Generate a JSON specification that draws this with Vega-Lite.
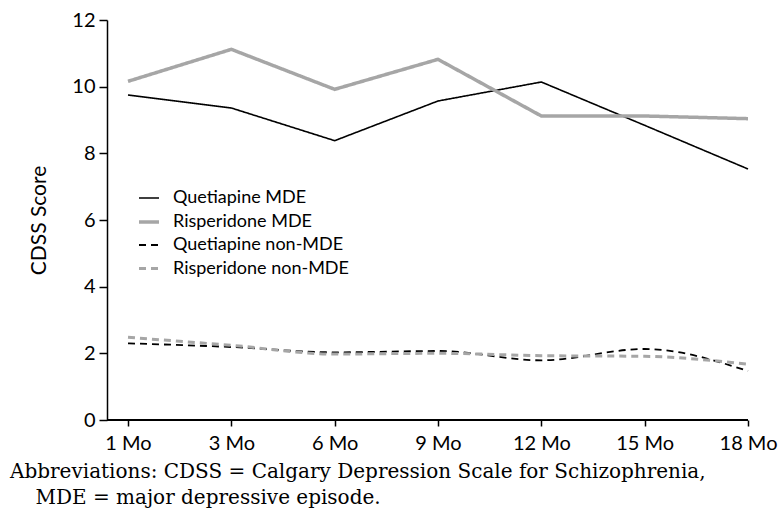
{
  "$schema": "https://vega.github.io/schema/vega-lite/v6.json",
  "width": 641,
  "height": 400,
  "autosize": "none",
  "padding": {"left": 107, "top": 20, "right": 35, "bottom": 98},
  "config": {
    "view": {"stroke": null},
    "font": "Lato",
    "axis": {
      "domainColor": "#000000",
      "domainWidth": 1.5,
      "tickColor": "#000000",
      "tickWidth": 1.5,
      "labelColor": "#000000",
      "labelFont": "Lato",
      "labelFontSize": 20,
      "titleFont": "Lato",
      "titleFontSize": 21,
      "titleFontWeight": "normal",
      "titleColor": "#000000",
      "grid": false
    },
    "legend": {
      "labelFont": "Lato",
      "labelFontSize": 18,
      "labelColor": "#000000",
      "labelLimit": 400
    }
  },
  "title": {
    "text": ["Abbreviations: CDSS = Calgary Depression Scale for Schizophrenia,", "\u200b\u00a0\u00a0\u00a0\u00a0MDE = major depressive episode."],
    "orient": "bottom",
    "anchor": "start",
    "frame": "group",
    "dx": -97,
    "offset": 9,
    "font": "DejaVu Serif",
    "fontSize": 20,
    "fontWeight": "normal",
    "lineHeight": 26,
    "color": "#000000"
  },
  "data": {
    "values": [
      {"month": "1 Mo", "series": "Quetiapine MDE", "value": 9.75},
      {"month": "3 Mo", "series": "Quetiapine MDE", "value": 9.36},
      {"month": "6 Mo", "series": "Quetiapine MDE", "value": 8.38},
      {"month": "9 Mo", "series": "Quetiapine MDE", "value": 9.57},
      {"month": "12 Mo", "series": "Quetiapine MDE", "value": 10.14},
      {"month": "15 Mo", "series": "Quetiapine MDE", "value": 8.84},
      {"month": "18 Mo", "series": "Quetiapine MDE", "value": 7.53},
      {"month": "1 Mo", "series": "Risperidone MDE", "value": 10.16},
      {"month": "3 Mo", "series": "Risperidone MDE", "value": 11.12},
      {"month": "6 Mo", "series": "Risperidone MDE", "value": 9.92},
      {"month": "9 Mo", "series": "Risperidone MDE", "value": 10.82},
      {"month": "12 Mo", "series": "Risperidone MDE", "value": 9.12},
      {"month": "15 Mo", "series": "Risperidone MDE", "value": 9.12},
      {"month": "18 Mo", "series": "Risperidone MDE", "value": 9.04},
      {"month": "1 Mo", "series": "Quetiapine non-MDE", "value": 2.30},
      {"month": "3 Mo", "series": "Quetiapine non-MDE", "value": 2.19},
      {"month": "6 Mo", "series": "Quetiapine non-MDE", "value": 2.03},
      {"month": "9 Mo", "series": "Quetiapine non-MDE", "value": 2.07},
      {"month": "12 Mo", "series": "Quetiapine non-MDE", "value": 1.79},
      {"month": "15 Mo", "series": "Quetiapine non-MDE", "value": 2.13},
      {"month": "18 Mo", "series": "Quetiapine non-MDE", "value": 1.47},
      {"month": "1 Mo", "series": "Risperidone non-MDE", "value": 2.48},
      {"month": "3 Mo", "series": "Risperidone non-MDE", "value": 2.24},
      {"month": "6 Mo", "series": "Risperidone non-MDE", "value": 1.98},
      {"month": "9 Mo", "series": "Risperidone non-MDE", "value": 2.0},
      {"month": "12 Mo", "series": "Risperidone non-MDE", "value": 1.93},
      {"month": "15 Mo", "series": "Risperidone non-MDE", "value": 1.91},
      {"month": "18 Mo", "series": "Risperidone non-MDE", "value": 1.67}
    ]
  },
  "encoding": {
    "x": {
      "field": "month",
      "type": "ordinal",
      "sort": ["1 Mo", "3 Mo", "6 Mo", "9 Mo", "12 Mo", "15 Mo", "18 Mo"],
      "scale": {"type": "point", "padding": 0.1016, "align": 1},
      "axis": {"domain": false, "labelAngle": 0, "title": null, "tickSize": 6, "labelPadding": 7}
    },
    "y": {
      "field": "value",
      "type": "quantitative",
      "scale": {"domain": [0, 12]},
      "axis": {"values": [0, 2, 4, 6, 8, 10, 12], "title": "CDSS Score", "tickSize": 8, "labelPadding": 4, "titlePadding": 22}
    },
    "color": {
      "field": "series",
      "type": "nominal",
      "scale": {
        "domain": ["Quetiapine MDE", "Risperidone MDE", "Quetiapine non-MDE", "Risperidone non-MDE"],
        "range": ["#000000", "#a6a6a6", "#000000", "#a6a6a6"]
      },
      "legend": {
        "title": null,
        "orient": "none",
        "legendX": 30,
        "legendY": 167,
        "padding": 0,
        "symbolType": "stroke",
        "symbolSize": 400,
        "labelOffset": 12,
        "labelLimit": 400,
        "rowPadding": 3
      }
    },
    "strokeDash": {
      "field": "series",
      "type": "nominal",
      "scale": {
        "domain": ["Quetiapine MDE", "Risperidone MDE", "Quetiapine non-MDE", "Risperidone non-MDE"],
        "range": [[1, 0], [1, 0], [7, 5], [7, 5]]
      },
      "legend": {
        "title": null,
        "orient": "none",
        "legendX": 30,
        "legendY": 167,
        "padding": 0,
        "symbolType": "stroke",
        "symbolSize": 400,
        "labelOffset": 12,
        "labelLimit": 400,
        "rowPadding": 3
      }
    },
    "strokeWidth": {
      "field": "series",
      "type": "nominal",
      "scale": {
        "type": "ordinal",
        "domain": ["Quetiapine MDE", "Risperidone MDE", "Quetiapine non-MDE", "Risperidone non-MDE"],
        "range": [1.6, 3.5, 1.8, 3]
      },
      "legend": {
        "title": null,
        "orient": "none",
        "legendX": 30,
        "legendY": 167,
        "padding": 0,
        "symbolType": "stroke",
        "symbolSize": 400,
        "labelOffset": 12,
        "labelLimit": 400,
        "rowPadding": 3
      }
    }
  },
  "layer": [
    {
      "mark": {"type": "rule", "color": "#000000", "strokeWidth": 1.5},
      "encoding": {
        "x": null, "color": null, "strokeDash": null, "strokeWidth": null,
        "y": {"datum": 0, "type": "quantitative"}
      }
    },
    {
      "transform": [{"filter": "indexof(datum.series, 'non-MDE') < 0"}],
      "mark": {"type": "line", "interpolate": "linear"}
    },
    {
      "transform": [{"filter": "indexof(datum.series, 'non-MDE') >= 0"}],
      "mark": {"type": "line", "interpolate": "monotone"}
    }
  ]
}
